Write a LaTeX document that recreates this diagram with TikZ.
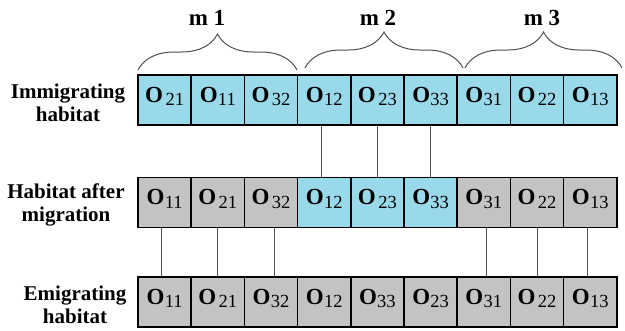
\documentclass[tikz,border=0pt]{standalone}
\usepackage{fontspec}
\setmainfont{Liberation Serif}
\usetikzlibrary{decorations.pathreplacing}
\definecolor{cellblue}{RGB}{153,217,234}
\definecolor{cellgray}{RGB}{195,195,195}
\definecolor{linegray}{RGB}{80,80,80}
\newcommand\osp[1]{\textbf{O}\hspace{2.5pt}\raisebox{-3.5pt}{\fontsize{18.5}{18.5}\selectfont #1}}
\newcommand\ost[1]{\textbf{O}\hspace{0.3pt}\raisebox{-3.5pt}{\fontsize{18.5}{18.5}\selectfont #1}}
\begin{document}
\begin{tikzpicture}[x=1pt,y=-1pt,
  cell/.style={draw=black,line width=1.6pt,minimum width=53.2pt,minimum height=50pt,inner sep=0pt,
    font=\fontsize{23}{23}\selectfont,text height=12pt,text depth=8pt},
  bluecell/.style={cell,fill=cellblue},
  graycell/.style={cell,fill=cellgray},
  conn/.style={draw=linegray,line width=0.9pt},
  rowlabel/.style={align=center,anchor=north,inner sep=0pt,font=\fontsize{21}{23.5}\selectfont\bfseries},
  grouplabel/.style={anchor=base,inner sep=0pt,font=\fontsize{23}{23}\selectfont\bfseries},
  bracestyle/.style={draw=linegray,line width=1pt,decorate,decoration={brace,amplitude=36pt}}]
\useasboundingbox (0,0) rectangle (625,330);
% row labels
\node[rowlabel] (l1) at (68,83.5) {Immigrating\\habitat};
\node[rowlabel] (l2) at (66,183.5) {Habitat after\\migration};
\node[rowlabel] (l3) at (75,285.5) {Emigrating\\habitat};
% row 1
\node[bluecell] (a1) at (164.6,100) {\osp{21}};
\node[bluecell] (a2) at (217.8,100) {\ost{11}};
\node[bluecell] (a3) at (271.0,100) {\osp{32}};
\node[bluecell] (a4) at (324.2,100) {\ost{12}};
\node[bluecell] (a5) at (377.4,100) {\osp{23}};
\node[bluecell] (a6) at (430.6,100) {\ost{33}};
\node[bluecell] (a7) at (483.8,100) {\ost{31}};
\node[bluecell] (a8) at (537.0,100) {\osp{22}};
\node[bluecell] (a9) at (590.2,100) {\ost{13}};
% row 2
\node[graycell] (b1) at (164.6,202.5) {\ost{11}};
\node[graycell] (b2) at (217.8,202.5) {\osp{21}};
\node[graycell] (b3) at (271.0,202.5) {\osp{32}};
\node[bluecell] (b4) at (324.2,202.5) {\ost{12}};
\node[bluecell] (b5) at (377.4,202.5) {\osp{23}};
\node[bluecell] (b6) at (430.6,202.5) {\ost{33}};
\node[graycell] (b7) at (483.8,202.5) {\ost{31}};
\node[graycell] (b8) at (537.0,202.5) {\osp{22}};
\node[graycell] (b9) at (590.2,202.5) {\ost{13}};
% row 3
\node[graycell] (c1) at (164.6,302) {\ost{11}};
\node[graycell] (c2) at (217.8,302) {\osp{21}};
\node[graycell] (c3) at (271.0,302) {\ost{32}};
\node[graycell] (c4) at (324.2,302) {\ost{12}};
\node[graycell] (c5) at (377.4,302) {\ost{33}};
\node[graycell] (c6) at (430.6,302) {\ost{23}};
\node[graycell] (c7) at (483.8,302) {\ost{31}};
\node[graycell] (c8) at (537.0,302) {\osp{22}};
\node[graycell] (c9) at (590.2,302) {\ost{13}};
% connectors
\draw[conn] ([xshift=-3pt]a4.south) -- ([xshift=-3pt]b4.north);
\draw[conn] (a5.south) -- (b5.north);
\draw[conn] (a6.south) -- (b6.north);
\draw[conn] ([xshift=-3pt]b1.south) -- ([xshift=-3pt]c1.north);
\draw[conn] (b2.south) -- (c2.north);
\draw[conn] ([xshift=3pt]b3.south) -- ([xshift=3pt]c3.north);
\draw[conn] ([xshift=3pt]b7.south) -- ([xshift=3pt]c7.north);
\draw[conn] (b8.south) -- (c8.north);
\draw[conn] ([xshift=-3pt]b9.south) -- ([xshift=-3pt]c9.north);
% braces
\coordinate (m1s) at (138,70);
\coordinate (m1e) at (297,70);
\coordinate (m2s) at (305,68);
\coordinate (m2e) at (463,68);
\coordinate (m3s) at (465,68);
\coordinate (m3e) at (622,68);
\draw[bracestyle] (m1s) -- (m1e);
\draw[bracestyle] (m2s) -- (m2e);
\draw[bracestyle] (m3s) -- (m3e);
\node[grouplabel] (g1) at (207,25) {m 1};
\node[grouplabel] (g2) at (378,25) {m 2};
\node[grouplabel] (g3) at (542,25) {m 3};
\end{tikzpicture}
\end{document}
